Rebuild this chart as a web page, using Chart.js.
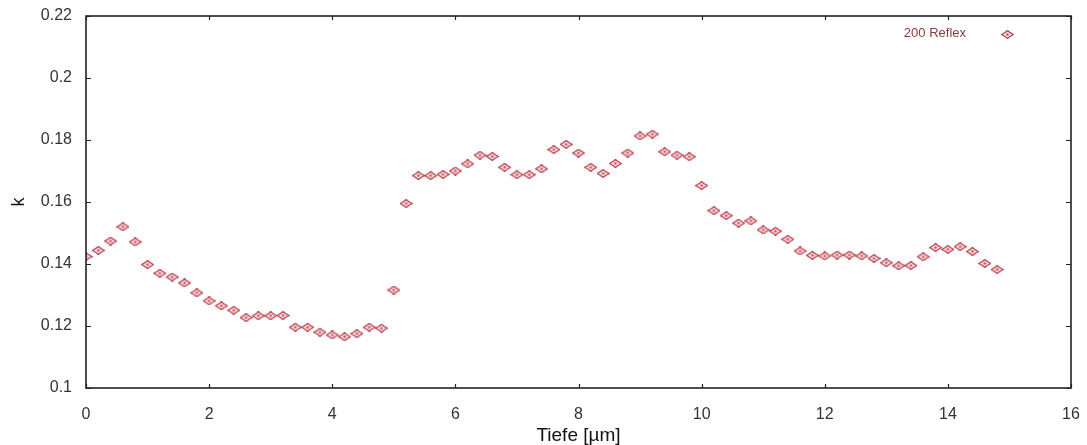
<!DOCTYPE html>
<html>
<head>
<meta charset="utf-8">
<script src="https://cdn.jsdelivr.net/npm/chart.js@4.4.1/dist/chart.umd.min.js"></script>
<style>
  html, body { margin: 0; padding: 0; background: #ffffff; }
  #wrap { width: 1087px; height: 445px; }
</style>
</head>
<body>
<div id="wrap"><canvas id="c" width="1087" height="445"></canvas></div>
<script>
// ---- data ----
const seriesLabel = '200 Reflex';
const depthUm = [
  0.0, 0.2, 0.4, 0.6, 0.8, 1.0, 1.2, 1.4, 1.6, 1.8,
  2.0, 2.2, 2.4, 2.6, 2.8, 3.0, 3.2, 3.4, 3.6, 3.8,
  4.0, 4.2, 4.4, 4.6, 4.8, 5.0, 5.2, 5.4, 5.6, 5.8,
  6.0, 6.2, 6.4, 6.6, 6.8, 7.0, 7.2, 7.4, 7.6, 7.8,
  8.0, 8.2, 8.4, 8.6, 8.8, 9.0, 9.2, 9.4, 9.6, 9.8,
  10.0, 10.2, 10.4, 10.6, 10.8, 11.0, 11.2, 11.4, 11.6, 11.8,
  12.0, 12.2, 12.4, 12.6, 12.8, 13.0, 13.2, 13.4, 13.6, 13.8,
  14.0, 14.2, 14.4, 14.6, 14.8
];
const kValues = [
  0.1424, 0.1444, 0.1474, 0.1520, 0.1471, 0.1398, 0.1370, 0.1358, 0.1339, 0.1307,
  0.1281, 0.1265, 0.1251, 0.1227, 0.1233, 0.1233, 0.1234, 0.1196, 0.1196, 0.1180,
  0.1171, 0.1165, 0.1175, 0.1196, 0.1193, 0.1316, 0.1595, 0.1685, 0.1685, 0.1689,
  0.1700, 0.1723, 0.1751, 0.1747, 0.1712, 0.1688, 0.1688, 0.1707, 0.1769, 0.1786,
  0.1758, 0.1712, 0.1692, 0.1724, 0.1758, 0.1813, 0.1819, 0.1762, 0.1751, 0.1746,
  0.1653, 0.1572, 0.1556, 0.1532, 0.1539, 0.1510, 0.1506, 0.1480, 0.1442, 0.1428,
  0.1426, 0.1429, 0.1429, 0.1426, 0.1418, 0.1404, 0.1394, 0.1395, 0.1423, 0.1453,
  0.1447, 0.1456, 0.1440, 0.1402, 0.1382
];
const xTitle = 'Tiefe [µm]';
const yTitle = 'k';
const xTickValues = [0, 2, 4, 6, 8, 10, 12, 14, 16];
const yTickValues = [0.1, 0.12, 0.14, 0.16, 0.18, 0.2, 0.22];

// ---- marker image (small "eye" diamond) ----
function makeMarker() {
  const c = document.createElement('canvas');
  c.width = 13; c.height = 9;
  const g = c.getContext('2d');
  g.beginPath();
  g.moveTo(0.5, 4.5);
  g.quadraticCurveTo(4.5, 2.5, 6.5, 0.5);
  g.quadraticCurveTo(8.5, 2.5, 12.5, 4.5);
  g.quadraticCurveTo(8.5, 6.5, 6.5, 8.5);
  g.quadraticCurveTo(4.5, 6.5, 0.5, 4.5);
  g.closePath();
  g.fillStyle = 'rgba(248,215,218,0.85)';
  g.fill();
  g.strokeStyle = 'rgb(185,55,70)';
  g.lineWidth = 1.1;
  g.stroke();
  g.fillStyle = 'rgb(170,60,70)';
  g.fillRect(5.5, 3.5, 2, 2);
  return c;
}
const marker = makeMarker();

const points = depthUm.map((d, i) => ({ x: d, y: kValues[i] }));
const FONT = "'Liberation Sans', Arial, sans-serif";

// frame, inward ticks on all four sides, and legend
const framePlugin = {
  id: 'frame',
  afterDraw(chart) {
    const { ctx, chartArea: a, scales } = chart;
    ctx.save();
    ctx.strokeStyle = '#222';
    ctx.lineWidth = 1.6;
    ctx.strokeRect(a.left, a.top, a.right - a.left, a.bottom - a.top);
    ctx.lineWidth = 1.2;
    ctx.beginPath();
    xTickValues.forEach(v => {
      const px = Math.round(scales.x.getPixelForValue(v)) + 0.5;
      ctx.moveTo(px, a.bottom); ctx.lineTo(px, a.bottom - 4);
      ctx.moveTo(px, a.top); ctx.lineTo(px, a.top + 4);
    });
    yTickValues.forEach(v => {
      const py = Math.round(scales.y.getPixelForValue(v)) + 0.5;
      ctx.moveTo(a.left, py); ctx.lineTo(a.left + 5, py);
      ctx.moveTo(a.right, py); ctx.lineTo(a.right - 5, py);
    });
    ctx.stroke();
    // legend
    const ds = chart.data.datasets[0];
    ctx.font = '13px ' + FONT;
    ctx.fillStyle = '#8c3a3e';
    ctx.textAlign = 'right';
    ctx.textBaseline = 'middle';
    ctx.fillText(ds.label, a.right - 105, a.top + 17);
    ctx.drawImage(marker, a.right - 64 - 6, a.top + 18 - 4);
    ctx.restore();
  }
};

new Chart(document.getElementById('c'), {
  type: 'scatter',
  data: {
    datasets: [{
      label: seriesLabel,
      data: points,
      pointStyle: marker,
      pointRadius: 6,
      pointHoverRadius: 6,
      showLine: false
    }]
  },
  options: {
    responsive: false,
    animation: false,
    events: [],
    layout: { padding: { top: 16, right: 16, left: 0, bottom: 0 } },
    plugins: {
      legend: { display: false },
      tooltip: { enabled: false }
    },
    scales: {
      x: {
        type: 'linear',
        min: 0, max: 16,
        afterBuildTicks: s => { s.ticks = xTickValues.map(v => ({ value: v })); },
        afterFit: s => { s.height = 57; s.paddingLeft = 0; s.paddingRight = 0; },
        grid: { display: false, drawTicks: false },
        border: { display: false },
        ticks: {
          color: '#333',
          font: { family: FONT, size: 16 },
          padding: 17,
          maxRotation: 0,
          callback: v => String(v)
        },
        title: {
          display: true,
          text: xTitle,
          color: '#111',
          font: { family: FONT, size: 19 },
          padding: { top: 0, bottom: -2 }
        }
      },
      y: {
        type: 'linear',
        min: 0.1, max: 0.22,
        afterBuildTicks: s => { s.ticks = yTickValues.map(v => ({ value: v })); },
        afterFit: s => { s.width = 86; s.paddingTop = 0; s.paddingBottom = 0; },
        grid: { display: false, drawTicks: false },
        border: { display: false },
        ticks: {
          color: '#333',
          font: { family: FONT, size: 16 },
          padding: 14,
          callback: v => String(Math.round(v * 100) / 100)
        },
        title: {
          display: true,
          text: yTitle,
          color: '#111',
          font: { family: FONT, size: 18 },
          padding: { top: 8, bottom: 0 }
        }
      }
    }
  },
  plugins: [framePlugin]
});
</script>
</body>
</html>
